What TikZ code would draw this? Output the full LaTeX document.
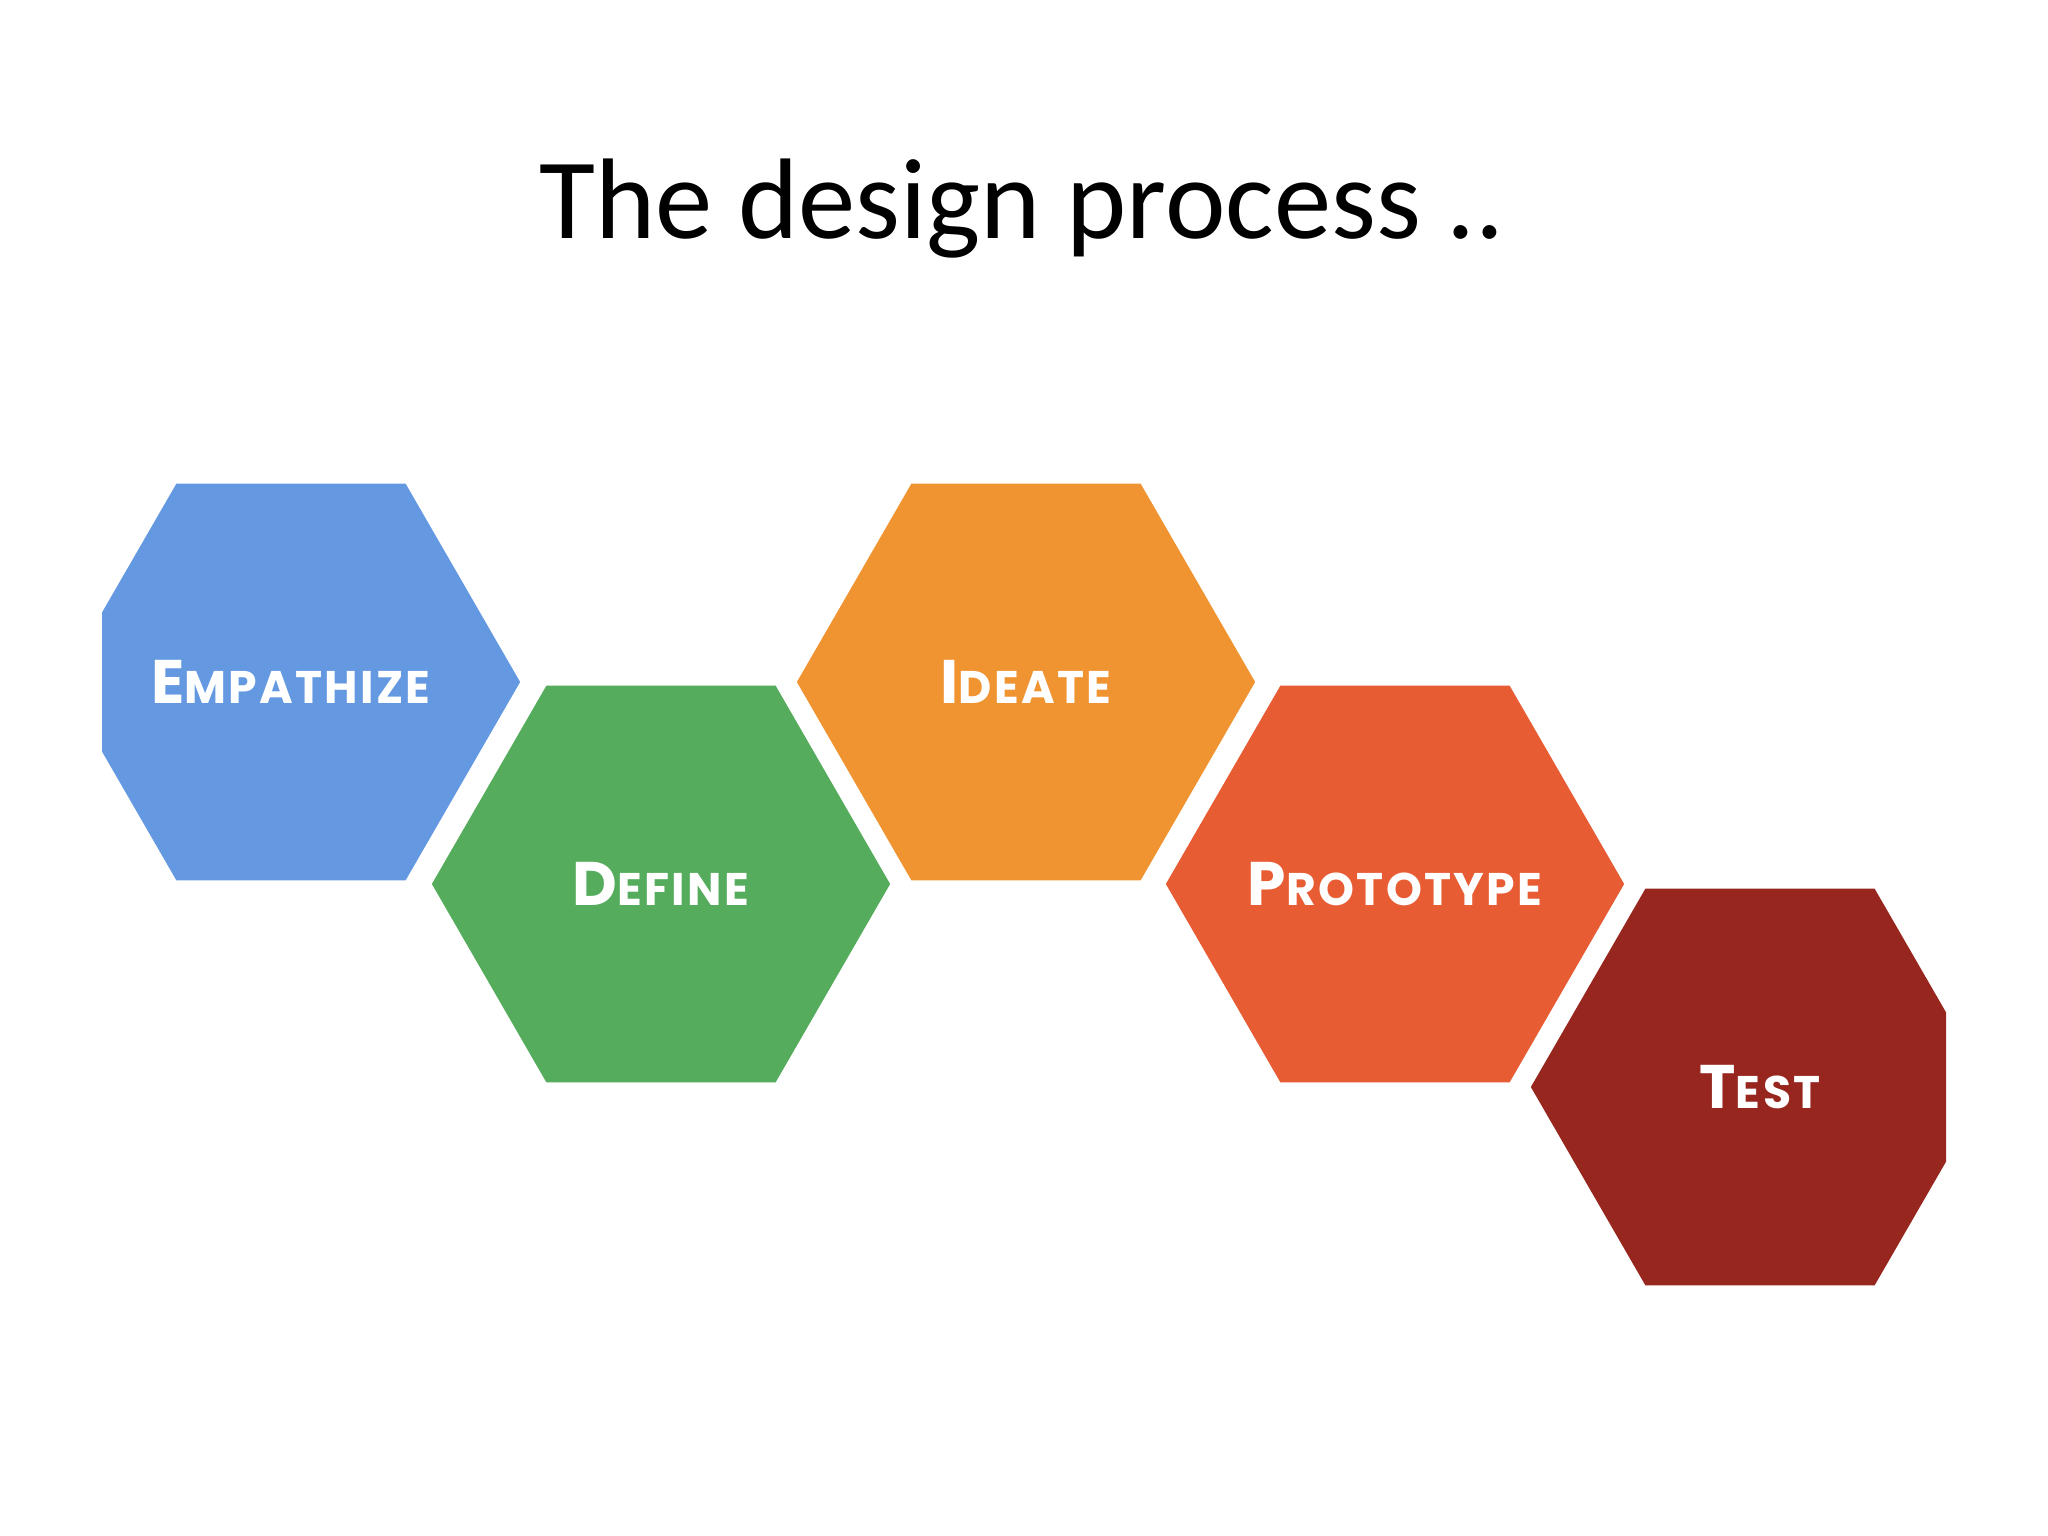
\documentclass[tikz,border=0pt]{standalone}
\usepackage{fontspec}
\setmainfont{Carlito}
\newfontfamily\stagefont{Poppins}[LetterSpace=5]
\usepackage{tikz}
\usetikzlibrary{shapes}
\definecolor{empblue}{RGB}{100,153,225}
\definecolor{defgreen}{RGB}{84,172,92}
\definecolor{ideorange}{RGB}{240,148,50}
\definecolor{protored}{RGB}{232,92,52}
\definecolor{testred}{RGB}{150,38,30}
\tikzstyle{stage}=[regular polygon, regular polygon sides=6, minimum size=4.58cm, inner sep=0pt, outer sep=0pt, text=white, font=\stagefont\bfseries]
\newcommand{\sclabel}[2]{\makebox[0pt]{{\fontsize{17.5}{17.5}\selectfont #1}{\fontsize{13}{13}\selectfont #2}}}

\begin{document}
\begin{tikzpicture}[x=0.01cm, y=-0.01cm]
      \useasboundingbox (0, 0) rectangle (2048, 1536);
      \node[font=\fontsize{32.6}{32.6}\selectfont, anchor=base] at (1022, 238) (title) {The design process ..};

      \begin{scope}
      \clip (102, 0) rectangle (1946, 1536);
      \node[stage, fill=empblue] at (291, 682) (emp) {\sclabel{E}{MPATHIZE}};
			\node[stage, fill=defgreen] at (661, 884) (def) {\sclabel{D}{EFINE}};
			\node[stage, fill=ideorange] at (1026, 682) (ide) {\sclabel{I}{DEATE}};
			\node[stage, fill=protored] at (1395, 884) (pro) {\sclabel{P}{ROTOTYPE}};
			\node[stage, fill=testred] at (1760, 1087) (tst) {\sclabel{T}{EST}};
      \end{scope}
  	\end{tikzpicture}
\end{document}
